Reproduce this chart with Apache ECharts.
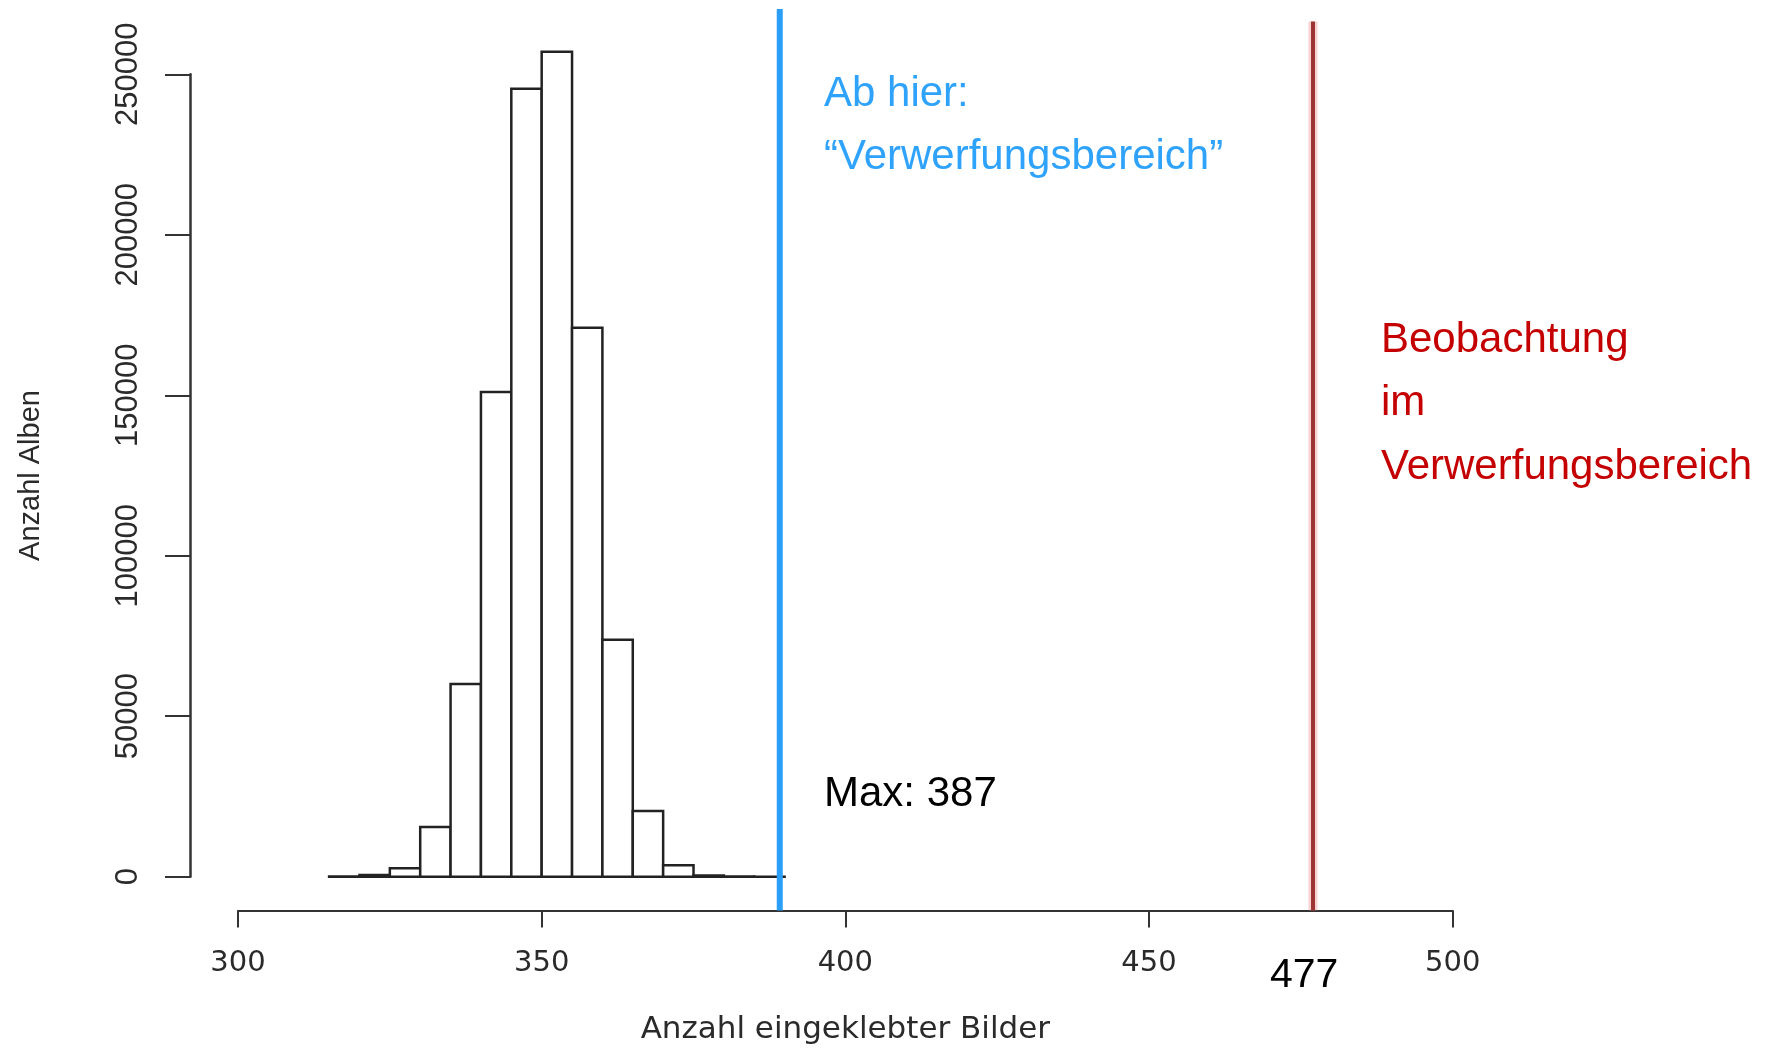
<!DOCTYPE html>
<html>
<head>
<meta charset="utf-8">
<script src="https://cdn.jsdelivr.net/npm/echarts@6/dist/echarts.min.js"></script>
<style>
html,body{margin:0;padding:0;background:#fff;}
#chart{width:1767px;height:1048px;}
</style>
</head>
<body>
<div id="chart"></div>
<script>
// ---- data ----
const binEdges = [315,320,325,330,335,340,345,350,355,360,365,370,375,380,385,390];
const binCounts = [50,500,2600,15500,60000,151000,245500,257000,171000,73800,20500,3600,400,30,5];
const xTicks = [300,350,400,450,500];
const yTicks = [0,50000,100000,150000,200000,250000];
const rejectionStart = 389.2;   // blue line
const observed = 477;           // red line
const refLines = [
  {x: rejectionStart, top: 1.0, kind: 'blue'},
  {x: observed, top: 0.986, kind: 'red'}
];
const xTitle = 'Anzahl eingeklebter Bilder';
const yTitle = 'Anzahl Alben';

const histData = binCounts.map((c, i) => [binEdges[i], binEdges[i+1], c]);

const chart = echarts.init(document.getElementById('chart'), null, {renderer: 'canvas'});

const axisColor = '#333333';
const gridLeft = 238, gridRight = 314.3;

const option = {
  animation: false,
  backgroundColor: '#ffffff',
  grid: [
    {left: gridLeft, right: gridRight, top: 74.3, bottom: 171.3, containLabel: false, outerBoundsMode: 'none'},
    {left: gridLeft, right: gridRight, top: 9, bottom: 137.4, containLabel: false, outerBoundsMode: 'none'}
  ],
  xAxis: [
    {gridIndex: 0, type: 'value', min: xTicks[0], max: xTicks[xTicks.length-1], show: false},
    {gridIndex: 1, type: 'value', min: xTicks[0], max: xTicks[xTicks.length-1], interval: 50,
     position: 'bottom',
     axisLine: {show: true, lineStyle: {color: axisColor, width: 2}},
     axisTick: {show: true, inside: false, length: 17, lineStyle: {color: axisColor, width: 2}},
     splitLine: {show: false},
     axisLabel: {show: true, margin: 38, color: '#2a2a2a', fontFamily: 'DejaVu Sans', fontSize: 29},
     name: xTitle, nameLocation: 'middle', nameGap: 104,
     nameTextStyle: {color: '#2a2a2a', fontFamily: 'DejaVu Sans', fontSize: 31}
    }
  ],
  yAxis: [
    {gridIndex: 0, type: 'value', min: yTicks[0], max: yTicks[yTicks.length-1], interval: 50000,
     position: 'left', offset: 48,
     axisLine: {show: true, lineStyle: {color: axisColor, width: 2.5}},
     axisTick: {show: true, inside: false, length: 25, lineStyle: {color: axisColor, width: 2}},
     splitLine: {show: false},
     axisLabel: {show: true, rotate: 90, margin: 46, color: '#2a2a2a', fontFamily: 'Liberation Sans', fontSize: 31,
                 formatter: v => String(v)},
     name: yTitle, nameLocation: 'middle', nameGap: 145, nameRotate: 90,
     nameTextStyle: {color: '#2a2a2a', fontFamily: 'Liberation Sans', fontSize: 29}
    },
    {gridIndex: 1, type: 'value', min: 0, max: 1, show: false}
  ],
  series: [
    {
      type: 'custom',
      xAxisIndex: 0, yAxisIndex: 0,
      clip: false,
      data: histData,
      renderItem: function (params, api) {
        const p0 = api.coord([api.value(0), api.value(2)]);
        const p1 = api.coord([api.value(1), 0]);
        return {
          type: 'rect',
          shape: {x: p0[0], y: p0[1], width: p1[0] - p0[0], height: p1[1] - p0[1]},
          style: {fill: '#ffffff', stroke: '#222222', lineWidth: 2.5}
        };
      }
    },
    {
      type: 'custom',
      xAxisIndex: 1, yAxisIndex: 1,
      clip: false,
      data: refLines.map(r => [r.x, r.top]),
      renderItem: function (params, api) {
        const top = api.coord([api.value(0), api.value(1)]);
        const bot = api.coord([api.value(0), 0]);
        const kind = refLines[params.dataIndex].kind;
        if (kind === 'blue') {
          return {type: 'line', shape: {x1: top[0], y1: top[1], x2: bot[0], y2: bot[1]},
                  style: {stroke: '#2b9ef7', lineWidth: 6}};
        }
        return {type: 'group', children: [
          {type: 'line', shape: {x1: top[0], y1: top[1], x2: bot[0], y2: bot[1]},
           style: {stroke: 'rgba(235,130,130,0.35)', lineWidth: 9}},
          {type: 'line', shape: {x1: top[0], y1: top[1], x2: bot[0], y2: bot[1]},
           style: {stroke: '#9c3434', lineWidth: 4}}
        ]};
      }
    }
  ],
  graphic: [
    {type: 'text', left: 824, top: 73, style: {text: 'Ab hier:', fill: '#2fa3fb', font: '42px "Liberation Sans"'}},
    {type: 'text', left: 824, top: 136, style: {text: '\u201CVerwerfungsbereich\u201D', fill: '#2fa3fb', font: '42px "Liberation Sans"'}},
    {type: 'text', left: 824, top: 773, style: {text: 'Max: 387', fill: '#000000', font: '42px "Liberation Sans"'}},
    {type: 'text', left: 1270, top: 955, style: {text: String(observed), fill: '#000000', font: '41px "Liberation Sans"'}},
    {type: 'text', left: 1381, top: 319, style: {text: 'Beobachtung', fill: '#c40000', font: '42px "Liberation Sans"'}},
    {type: 'text', left: 1381, top: 382, style: {text: 'im', fill: '#c40000', font: '42px "Liberation Sans"'}},
    {type: 'text', left: 1381, top: 446, style: {text: 'Verwerfungsbereich', fill: '#c40000', font: '42px "Liberation Sans"'}}
  ]
};
chart.setOption(option);
</script>
</body>
</html>
